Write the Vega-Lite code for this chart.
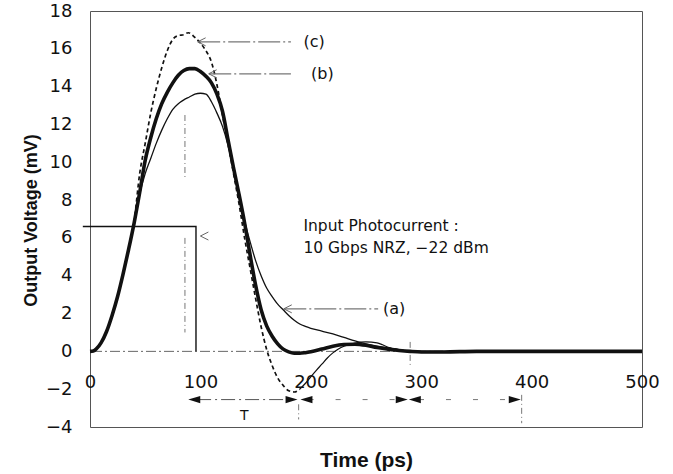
{
  "$schema": "https://vega.github.io/schema/vega-lite/v6.json",
  "width": 552,
  "height": 416,
  "autosize": {"type": "none"},
  "padding": {"left": 90, "top": 11, "right": 31, "bottom": 47},
  "background": "white",
  "config": {
    "view": {"stroke": "#555", "strokeWidth": 1},
    "axisX": {"offset": -75.6, "domain": false, "ticks": false, "grid": false, "labelFont": "DejaVu Sans", "labelFontSize": 18, "labelColor": "#111", "labelPadding": 22, "labelFlush": false, "titleFont": "Liberation Sans", "titleFontSize": 21, "titleFontWeight": "bold", "titleColor": "#111", "titleY": 115, "titleBaseline": "alphabetic"},
    "axisY": {"domain": false, "ticks": false, "grid": false, "labelFont": "DejaVu Sans", "labelFontSize": 18, "labelColor": "#111", "labelPadding": 18, "titleFont": "Liberation Sans", "titleFontSize": 18, "titleFontWeight": "bold", "titleColor": "#111", "titleX": -54, "titleY": 209, "titleBaseline": "alphabetic"}
  },
  "datasets": {
    "curves": [
      {"s": "b", "t": 0, "v": 0}, {"s": "b", "t": 3, "v": 0.02}, {"s": "b", "t": 6, "v": 0.15}, {"s": "b", "t": 10, "v": 0.45}, {"s": "b", "t": 15, "v": 1.05}, {"s": "b", "t": 20, "v": 1.9}, {"s": "b", "t": 25, "v": 2.9}, {"s": "b", "t": 30, "v": 4.1}, {"s": "b", "t": 35, "v": 5.4}, {"s": "b", "t": 40, "v": 6.8}, {"s": "b", "t": 45, "v": 8.4}, {"s": "b", "t": 50, "v": 10.1}, {"s": "b", "t": 55, "v": 11.3}, {"s": "b", "t": 60, "v": 12.3}, {"s": "b", "t": 65, "v": 13.1}, {"s": "b", "t": 70, "v": 13.7}, {"s": "b", "t": 75, "v": 14.2}, {"s": "b", "t": 80, "v": 14.6}, {"s": "b", "t": 85, "v": 14.85}, {"s": "b", "t": 90, "v": 14.95}, {"s": "b", "t": 95, "v": 14.95}, {"s": "b", "t": 100, "v": 14.8}, {"s": "b", "t": 105, "v": 14.55}, {"s": "b", "t": 110, "v": 14.2}, {"s": "b", "t": 115, "v": 13.6}, {"s": "b", "t": 120, "v": 12.7}, {"s": "b", "t": 125, "v": 11.2}, {"s": "b", "t": 130, "v": 9.7}, {"s": "b", "t": 135, "v": 8.3}, {"s": "b", "t": 140, "v": 6.8}, {"s": "b", "t": 145, "v": 5.1}, {"s": "b", "t": 150, "v": 3.5}, {"s": "b", "t": 155, "v": 2.2}, {"s": "b", "t": 160, "v": 1.35}, {"s": "b", "t": 165, "v": 0.8}, {"s": "b", "t": 170, "v": 0.4}, {"s": "b", "t": 175, "v": 0.12}, {"s": "b", "t": 180, "v": -0.03}, {"s": "b", "t": 185, "v": -0.1}, {"s": "b", "t": 190, "v": -0.1}, {"s": "b", "t": 195, "v": -0.07}, {"s": "b", "t": 200, "v": -0.02}, {"s": "b", "t": 210, "v": 0.12}, {"s": "b", "t": 220, "v": 0.27}, {"s": "b", "t": 230, "v": 0.36}, {"s": "b", "t": 240, "v": 0.38}, {"s": "b", "t": 250, "v": 0.32}, {"s": "b", "t": 260, "v": 0.2}, {"s": "b", "t": 270, "v": 0.12}, {"s": "b", "t": 280, "v": 0.05}, {"s": "b", "t": 290, "v": 0.0}, {"s": "b", "t": 300, "v": -0.03}, {"s": "b", "t": 320, "v": -0.03}, {"s": "b", "t": 350, "v": 0}, {"s": "b", "t": 400, "v": 0}, {"s": "b", "t": 450, "v": 0}, {"s": "b", "t": 500, "v": 0},
      {"s": "a", "t": 0, "v": 0}, {"s": "a", "t": 3, "v": 0.02}, {"s": "a", "t": 6, "v": 0.15}, {"s": "a", "t": 10, "v": 0.45}, {"s": "a", "t": 15, "v": 1.05}, {"s": "a", "t": 20, "v": 1.9}, {"s": "a", "t": 25, "v": 2.9}, {"s": "a", "t": 30, "v": 4.1}, {"s": "a", "t": 35, "v": 5.4}, {"s": "a", "t": 40, "v": 6.7}, {"s": "a", "t": 45, "v": 8.3}, {"s": "a", "t": 50, "v": 9.4}, {"s": "a", "t": 55, "v": 10.2}, {"s": "a", "t": 60, "v": 11.0}, {"s": "a", "t": 65, "v": 11.7}, {"s": "a", "t": 70, "v": 12.3}, {"s": "a", "t": 75, "v": 12.8}, {"s": "a", "t": 80, "v": 13.1}, {"s": "a", "t": 85, "v": 13.3}, {"s": "a", "t": 90, "v": 13.45}, {"s": "a", "t": 95, "v": 13.6}, {"s": "a", "t": 100, "v": 13.65}, {"s": "a", "t": 105, "v": 13.6}, {"s": "a", "t": 110, "v": 13.2}, {"s": "a", "t": 115, "v": 12.6}, {"s": "a", "t": 120, "v": 11.9}, {"s": "a", "t": 125, "v": 10.9}, {"s": "a", "t": 130, "v": 9.6}, {"s": "a", "t": 135, "v": 8.2}, {"s": "a", "t": 140, "v": 6.9}, {"s": "a", "t": 145, "v": 5.8}, {"s": "a", "t": 150, "v": 4.8}, {"s": "a", "t": 155, "v": 4.0}, {"s": "a", "t": 160, "v": 3.35}, {"s": "a", "t": 165, "v": 2.9}, {"s": "a", "t": 170, "v": 2.5}, {"s": "a", "t": 175, "v": 2.2}, {"s": "a", "t": 180, "v": 1.9}, {"s": "a", "t": 185, "v": 1.65}, {"s": "a", "t": 190, "v": 1.45}, {"s": "a", "t": 195, "v": 1.32}, {"s": "a", "t": 200, "v": 1.22}, {"s": "a", "t": 210, "v": 1.07}, {"s": "a", "t": 220, "v": 0.92}, {"s": "a", "t": 230, "v": 0.74}, {"s": "a", "t": 240, "v": 0.55}, {"s": "a", "t": 250, "v": 0.4}, {"s": "a", "t": 260, "v": 0.28}, {"s": "a", "t": 270, "v": 0.18}, {"s": "a", "t": 280, "v": 0.08}, {"s": "a", "t": 290, "v": 0.02}, {"s": "a", "t": 300, "v": 0}, {"s": "a", "t": 320, "v": 0},
      {"s": "c", "t": 0, "v": 0}, {"s": "c", "t": 3, "v": 0.02}, {"s": "c", "t": 6, "v": 0.15}, {"s": "c", "t": 10, "v": 0.45}, {"s": "c", "t": 15, "v": 1.05}, {"s": "c", "t": 20, "v": 1.9}, {"s": "c", "t": 25, "v": 2.9}, {"s": "c", "t": 30, "v": 4.1}, {"s": "c", "t": 35, "v": 5.4}, {"s": "c", "t": 40, "v": 6.9}, {"s": "c", "t": 45, "v": 9.4}, {"s": "c", "t": 50, "v": 11.0}, {"s": "c", "t": 55, "v": 12.6}, {"s": "c", "t": 60, "v": 13.9}, {"s": "c", "t": 65, "v": 15.0}, {"s": "c", "t": 70, "v": 15.9}, {"s": "c", "t": 75, "v": 16.5}, {"s": "c", "t": 80, "v": 16.7}, {"s": "c", "t": 85, "v": 16.75}, {"s": "c", "t": 89, "v": 16.85}, {"s": "c", "t": 95, "v": 16.6}, {"s": "c", "t": 100, "v": 16.3}, {"s": "c", "t": 105, "v": 15.9}, {"s": "c", "t": 110, "v": 15.3}, {"s": "c", "t": 115, "v": 14.1}, {"s": "c", "t": 120, "v": 12.5}, {"s": "c", "t": 125, "v": 11.0}, {"s": "c", "t": 130, "v": 9.4}, {"s": "c", "t": 135, "v": 7.8}, {"s": "c", "t": 140, "v": 6.0}, {"s": "c", "t": 145, "v": 4.4}, {"s": "c", "t": 150, "v": 2.8}, {"s": "c", "t": 155, "v": 1.3}, {"s": "c", "t": 160, "v": 0.1}, {"s": "c", "t": 165, "v": -0.75}, {"s": "c", "t": 170, "v": -1.4}, {"s": "c", "t": 175, "v": -1.8}, {"s": "c", "t": 180, "v": -2.08}, {"s": "c", "t": 185, "v": -2.15}, {"s": "c", "t": 190, "v": -2.0},
      {"s": "ct", "t": 190, "v": -2.0}, {"s": "ct", "t": 195, "v": -1.7}, {"s": "ct", "t": 200, "v": -1.35}, {"s": "ct", "t": 205, "v": -1.0}, {"s": "ct", "t": 210, "v": -0.68}, {"s": "ct", "t": 215, "v": -0.35}, {"s": "ct", "t": 220, "v": -0.08}, {"s": "ct", "t": 225, "v": 0.12}, {"s": "ct", "t": 230, "v": 0.27}, {"s": "ct", "t": 240, "v": 0.44}, {"s": "ct", "t": 250, "v": 0.5}, {"s": "ct", "t": 260, "v": 0.45}, {"s": "ct", "t": 265, "v": 0.35}, {"s": "ct", "t": 270, "v": 0.22}, {"s": "ct", "t": 280, "v": 0.08}, {"s": "ct", "t": 290, "v": 0.02}, {"s": "ct", "t": 300, "v": 0}
    ],
    "step": [
      {"i": 0, "t": -6.5, "v": 6.6}, {"i": 1, "t": 96, "v": 6.6}, {"i": 2, "t": 96, "v": 0}
    ],
    "leaders": [
      {"t": 98, "t2": 182, "v": 16.37}, {"t": 108, "t2": 182, "v": 14.68}, {"t": 176, "t2": 261, "v": 2.25}
    ],
    "chevrons": [
      {"t": 97.5, "v": 16.37}, {"t": 107.5, "v": 14.68}, {"t": 175.5, "v": 2.25}, {"t": 100, "v": 6.1}
    ],
    "markers": [
      {"t": 86, "v": 12.5, "v2": 9.2}, {"t": 86, "v": 6.0, "v2": 1.0}, {"t": 189, "v": -2.8, "v2": -3.6}, {"t": 290, "v": 0.5, "v2": -0.8}, {"t": 391, "v": -2.3, "v2": -3.8}
    ],
    "arrowlines": [
      {"t": 97, "t2": 186, "v": -2.55, "k": "a"}, {"t": 198, "t2": 284, "v": -2.55, "k": "b"}, {"t": 298, "t2": 385, "v": -2.55, "k": "b"}
    ],
    "heads": [
      {"t": 89, "v": -2.55, "d": "L"}, {"t": 188, "v": -2.55, "d": "R"}, {"t": 190.6, "v": -2.55, "d": "L"}, {"t": 287.8, "v": -2.55, "d": "R"}, {"t": 288.8, "v": -2.55, "d": "L"}, {"t": 390.2, "v": -2.55, "d": "R"}
    ],
    "labels": [
      {"t": 203, "v": 16.37, "txt": "(c)"}, {"t": 210.5, "v": 14.68, "txt": "(b)"}, {"t": 275.5, "v": 2.25, "txt": "(a)"}
    ],
    "notes": [
      {"t": 193.3, "v": 6.62, "txt": "Input Photocurrent :"}, {"t": 193.3, "v": 5.45, "txt": "10 Gbps NRZ, −22 dBm"}
    ]
  },
  "layer": [
    {
      "data": {"values": [{"v": 0}]},
      "mark": {"type": "rule", "stroke": "#666", "strokeWidth": 1, "strokeDash": [10, 3, 2, 3]},
      "encoding": {
        "y": {"field": "v", "type": "quantitative", "scale": {"domain": [-4, 18], "nice": false, "zero": false}, "axis": {"title": "Output  Voltage (mV)", "values": [-4, -2, 0, 2, 4, 6, 8, 10, 12, 14, 16, 18]}}
      }
    },
    {
      "data": {"name": "step"},
      "mark": {"type": "line", "stroke": "#111", "strokeWidth": 1.4, "clip": false},
      "encoding": {
        "x": {"field": "t", "type": "quantitative", "scale": {"domain": [0, 500], "nice": false, "zero": false}, "axis": {"title": "Time (ps)", "values": [0, 100, 200, 300, 400, 500]}},
        "y": {"field": "v", "type": "quantitative", "scale": {"domain": [-4, 18], "nice": false, "zero": false}, "axis": {"title": "Output  Voltage (mV)", "values": [-4, -2, 0, 2, 4, 6, 8, 10, 12, 14, 16, 18]}},
        "order": {"field": "i"}
      }
    },
    {
      "data": {"name": "markers"},
      "mark": {"type": "rule", "stroke": "#777", "strokeWidth": 1, "strokeDash": [6, 3, 1, 3]},
      "encoding": {
        "x": {"field": "t", "type": "quantitative", "scale": {"domain": [0, 500], "nice": false, "zero": false}, "axis": {"title": "Time (ps)", "values": [0, 100, 200, 300, 400, 500]}},
        "y": {"field": "v", "type": "quantitative", "scale": {"domain": [-4, 18], "nice": false, "zero": false}, "axis": {"title": "Output  Voltage (mV)", "values": [-4, -2, 0, 2, 4, 6, 8, 10, 12, 14, 16, 18]}},
        "y2": {"field": "v2"}
      }
    },
    {
      "data": {"name": "curves"},
      "transform": [{"filter": "datum.s === 'a'"}],
      "mark": {"type": "line", "stroke": "#111", "strokeWidth": 1.3, "interpolate": "monotone"},
      "encoding": {
        "x": {"field": "t", "type": "quantitative", "scale": {"domain": [0, 500], "nice": false, "zero": false}, "axis": {"title": "Time (ps)", "values": [0, 100, 200, 300, 400, 500]}},
        "y": {"field": "v", "type": "quantitative", "scale": {"domain": [-4, 18], "nice": false, "zero": false}, "axis": {"title": "Output  Voltage (mV)", "values": [-4, -2, 0, 2, 4, 6, 8, 10, 12, 14, 16, 18]}}
      }
    },
    {
      "data": {"name": "curves"},
      "transform": [{"filter": "datum.s === 'ct'"}],
      "mark": {"type": "line", "stroke": "#111", "strokeWidth": 1.2, "interpolate": "monotone"},
      "encoding": {
        "x": {"field": "t", "type": "quantitative", "scale": {"domain": [0, 500], "nice": false, "zero": false}, "axis": {"title": "Time (ps)", "values": [0, 100, 200, 300, 400, 500]}},
        "y": {"field": "v", "type": "quantitative", "scale": {"domain": [-4, 18], "nice": false, "zero": false}, "axis": {"title": "Output  Voltage (mV)", "values": [-4, -2, 0, 2, 4, 6, 8, 10, 12, 14, 16, 18]}}
      }
    },
    {
      "data": {"name": "curves"},
      "transform": [{"filter": "datum.s === 'c'"}],
      "mark": {"type": "line", "stroke": "#111", "strokeWidth": 1.7, "strokeDash": [4, 3], "interpolate": "monotone"},
      "encoding": {
        "x": {"field": "t", "type": "quantitative", "scale": {"domain": [0, 500], "nice": false, "zero": false}, "axis": {"title": "Time (ps)", "values": [0, 100, 200, 300, 400, 500]}},
        "y": {"field": "v", "type": "quantitative", "scale": {"domain": [-4, 18], "nice": false, "zero": false}, "axis": {"title": "Output  Voltage (mV)", "values": [-4, -2, 0, 2, 4, 6, 8, 10, 12, 14, 16, 18]}}
      }
    },
    {
      "data": {"name": "curves"},
      "transform": [{"filter": "datum.s === 'b'"}],
      "mark": {"type": "line", "stroke": "#111", "strokeWidth": 3.6, "interpolate": "monotone"},
      "encoding": {
        "x": {"field": "t", "type": "quantitative", "scale": {"domain": [0, 500], "nice": false, "zero": false}, "axis": {"title": "Time (ps)", "values": [0, 100, 200, 300, 400, 500]}},
        "y": {"field": "v", "type": "quantitative", "scale": {"domain": [-4, 18], "nice": false, "zero": false}, "axis": {"title": "Output  Voltage (mV)", "values": [-4, -2, 0, 2, 4, 6, 8, 10, 12, 14, 16, 18]}}
      }
    },
    {
      "data": {"name": "leaders"},
      "mark": {"type": "rule", "stroke": "#777", "strokeWidth": 1.2, "strokeDash": [22, 3, 2, 3]},
      "encoding": {
        "x": {"field": "t", "type": "quantitative", "scale": {"domain": [0, 500], "nice": false, "zero": false}, "axis": {"title": "Time (ps)", "values": [0, 100, 200, 300, 400, 500]}},
        "x2": {"field": "t2"},
        "y": {"field": "v", "type": "quantitative", "scale": {"domain": [-4, 18], "nice": false, "zero": false}, "axis": {"title": "Output  Voltage (mV)", "values": [-4, -2, 0, 2, 4, 6, 8, 10, 12, 14, 16, 18]}}
      }
    },
    {
      "data": {"name": "chevrons"},
      "mark": {"type": "point", "shape": "M2,-1L0,0L2,1", "size": 64, "filled": false, "stroke": "#666", "strokeWidth": 1, "opacity": 1},
      "encoding": {
        "x": {"field": "t", "type": "quantitative", "scale": {"domain": [0, 500], "nice": false, "zero": false}, "axis": {"title": "Time (ps)", "values": [0, 100, 200, 300, 400, 500]}},
        "y": {"field": "v", "type": "quantitative", "scale": {"domain": [-4, 18], "nice": false, "zero": false}, "axis": {"title": "Output  Voltage (mV)", "values": [-4, -2, 0, 2, 4, 6, 8, 10, 12, 14, 16, 18]}}
      }
    },
    {
      "data": {"name": "arrowlines"},
      "transform": [{"filter": "datum.k === 'a'"}],
      "mark": {"type": "rule", "stroke": "#555", "strokeWidth": 1, "strokeDash": [14, 4, 2, 4]},
      "encoding": {
        "x": {"field": "t", "type": "quantitative", "scale": {"domain": [0, 500], "nice": false, "zero": false}, "axis": {"title": "Time (ps)", "values": [0, 100, 200, 300, 400, 500]}},
        "x2": {"field": "t2"},
        "y": {"field": "v", "type": "quantitative", "scale": {"domain": [-4, 18], "nice": false, "zero": false}, "axis": {"title": "Output  Voltage (mV)", "values": [-4, -2, 0, 2, 4, 6, 8, 10, 12, 14, 16, 18]}}
      }
    },
    {
      "data": {"name": "arrowlines"},
      "transform": [{"filter": "datum.k === 'b'"}],
      "mark": {"type": "rule", "stroke": "#777", "strokeWidth": 1, "strokeDash": [5, 22]},
      "encoding": {
        "x": {"field": "t", "type": "quantitative", "scale": {"domain": [0, 500], "nice": false, "zero": false}, "axis": {"title": "Time (ps)", "values": [0, 100, 200, 300, 400, 500]}},
        "x2": {"field": "t2"},
        "y": {"field": "v", "type": "quantitative", "scale": {"domain": [-4, 18], "nice": false, "zero": false}, "axis": {"title": "Output  Voltage (mV)", "values": [-4, -2, 0, 2, 4, 6, 8, 10, 12, 14, 16, 18]}}
      }
    },
    {
      "data": {"name": "heads"},
      "mark": {"type": "point", "size": 144, "filled": true, "fill": "#111", "stroke": null, "opacity": 1},
      "encoding": {
        "x": {"field": "t", "type": "quantitative", "scale": {"domain": [0, 500], "nice": false, "zero": false}, "axis": {"title": "Time (ps)", "values": [0, 100, 200, 300, 400, 500]}},
        "y": {"field": "v", "type": "quantitative", "scale": {"domain": [-4, 18], "nice": false, "zero": false}, "axis": {"title": "Output  Voltage (mV)", "values": [-4, -2, 0, 2, 4, 6, 8, 10, 12, 14, 16, 18]}},
        "shape": {"field": "d", "type": "nominal", "scale": {"domain": ["L", "R"], "range": ["M0,0L2,-0.6L2,0.6Z", "M0,0L-2,-0.6L-2,0.6Z"]}, "legend": null}
      }
    },
    {
      "data": {"values": [{"t": 139.7, "v": -3.42, "txt": "T"}]},
      "mark": {"type": "text", "font": "DejaVu Sans", "fontSize": 14, "color": "#111", "align": "center", "baseline": "middle"},
      "encoding": {
        "x": {"field": "t", "type": "quantitative", "scale": {"domain": [0, 500], "nice": false, "zero": false}, "axis": {"title": "Time (ps)", "values": [0, 100, 200, 300, 400, 500]}},
        "y": {"field": "v", "type": "quantitative", "scale": {"domain": [-4, 18], "nice": false, "zero": false}, "axis": {"title": "Output  Voltage (mV)", "values": [-4, -2, 0, 2, 4, 6, 8, 10, 12, 14, 16, 18]}},
        "text": {"field": "txt"}
      }
    },
    {
      "data": {"name": "labels"},
      "mark": {"type": "text", "font": "DejaVu Sans", "fontSize": 16, "color": "#111", "align": "center", "baseline": "middle"},
      "encoding": {
        "x": {"field": "t", "type": "quantitative", "scale": {"domain": [0, 500], "nice": false, "zero": false}, "axis": {"title": "Time (ps)", "values": [0, 100, 200, 300, 400, 500]}},
        "y": {"field": "v", "type": "quantitative", "scale": {"domain": [-4, 18], "nice": false, "zero": false}, "axis": {"title": "Output  Voltage (mV)", "values": [-4, -2, 0, 2, 4, 6, 8, 10, 12, 14, 16, 18]}},
        "text": {"field": "txt"}
      }
    },
    {
      "data": {"name": "notes"},
      "mark": {"type": "text", "font": "DejaVu Sans", "fontSize": 15.5, "color": "#111", "align": "left", "baseline": "middle"},
      "encoding": {
        "x": {"field": "t", "type": "quantitative", "scale": {"domain": [0, 500], "nice": false, "zero": false}, "axis": {"title": "Time (ps)", "values": [0, 100, 200, 300, 400, 500]}},
        "y": {"field": "v", "type": "quantitative", "scale": {"domain": [-4, 18], "nice": false, "zero": false}, "axis": {"title": "Output  Voltage (mV)", "values": [-4, -2, 0, 2, 4, 6, 8, 10, 12, 14, 16, 18]}},
        "text": {"field": "txt"}
      }
    }
  ]
}
